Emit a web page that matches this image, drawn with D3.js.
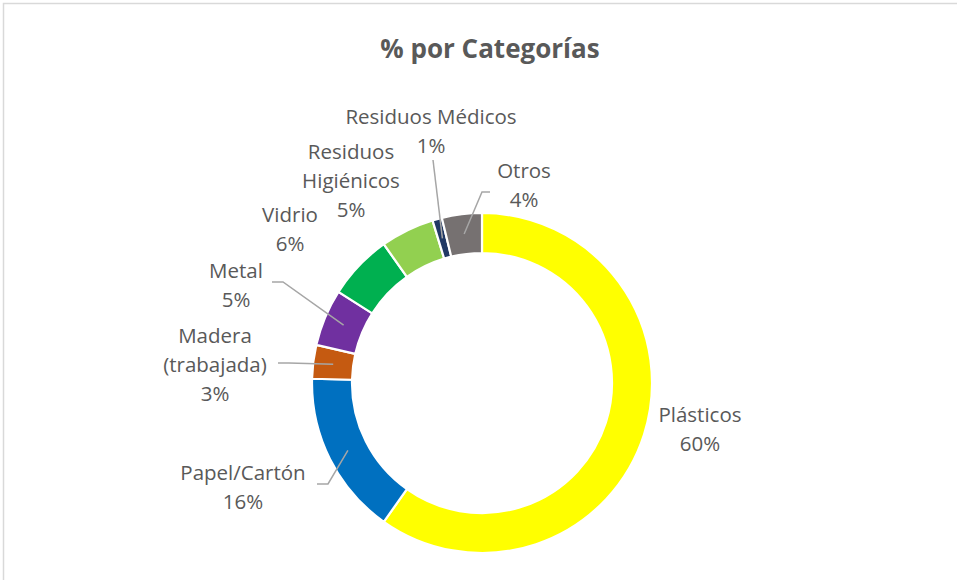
<!DOCTYPE html>
<html><head><meta charset="utf-8">
<script src="https://cdn.jsdelivr.net/npm/d3@7"></script>
<style>html,body{margin:0;padding:0;background:#fff;}svg{display:block;}</style>
</head><body>
<svg id="chart" width="957" height="580"></svg>
<script>
const categories = ["Plásticos","Papel/Cartón","Madera\n(trabajada)","Metal","Vidrio","Residuos\nHigiénicos","Residuos Médicos","Otros"];
const values = [59.8, 15.6, 3.2, 5.4, 6.2, 5.1, 0.9, 3.8];
const colors = ["#FFFF00","#0070C0","#C55A11","#7030A0","#00B050","#92D050","#203864","#767171"];
const title = "% por Categorías";

// layout (label centers and leader-line stubs), kept separate from data
const labelPos = [[700,428],[243,486],[215,364],[236,284],[290,228],[351,180],[431,130],[524,184]];
const leaders = [null, [[317,484],[328,484]], [[278,363],[289,363]], [[272,282],[283,282]], null, null, [[433,160]], [[490,192],[482,192]]];

const svg = d3.select("#chart");
const W = 957, H = 580;
svg.append("rect").attr("x",3.5).attr("y",3.5).attr("width",W+10).attr("height",H+10)
  .attr("fill","#fff").attr("stroke","#d9d9d9").attr("stroke-width",1.5);

const FONT = "'Open Sans', sans-serif";
svg.append("text").attr("x",490).attr("y",48).attr("text-anchor","middle").attr("dominant-baseline","central")
  .attr("font-family",FONT).attr("font-weight","bold").attr("font-size",26).attr("fill","#595959").text(title);

const cx = 482, cy = 383, R = 170, r = 130;
const pie = d3.pie().sort(null).value(d=>d)(values);
const arc = d3.arc().innerRadius(r).outerRadius(R);
const g = svg.append("g").attr("transform",`translate(${cx},${cy})`);
g.selectAll("path").data(pie).join("path").attr("d",arc)
  .attr("fill",(d,i)=>colors[i]).attr("stroke","#fff").attr("stroke-width",2.2);

const mid = d3.arc().innerRadius(150).outerRadius(150);
pie.forEach((d,i)=>{
  if(!leaders[i]) return;
  const c = mid.centroid(d);
  const pts = leaders[i].concat([[cx+c[0], cy+c[1]]]);
  svg.append("path").attr("d", d3.line()(pts)).attr("fill","none").attr("stroke","#a6a6a6").attr("stroke-width",1.5);
});

pie.forEach((d,i)=>{
  const lines = categories[i].split("\n").concat([Math.round(values[i])+"%"]);
  const lh = 29;
  const y0 = labelPos[i][1] - (lines.length-1)*lh/2;
  const t = svg.append("text").attr("text-anchor","middle").attr("font-family",FONT)
    .attr("font-size",20.5).attr("fill","#595959");
  lines.forEach((s,k)=>{
    t.append("tspan").attr("x",labelPos[i][0]).attr("y",y0+k*lh).attr("dominant-baseline","central").text(s);
  });
});
</script>
</body></html>
